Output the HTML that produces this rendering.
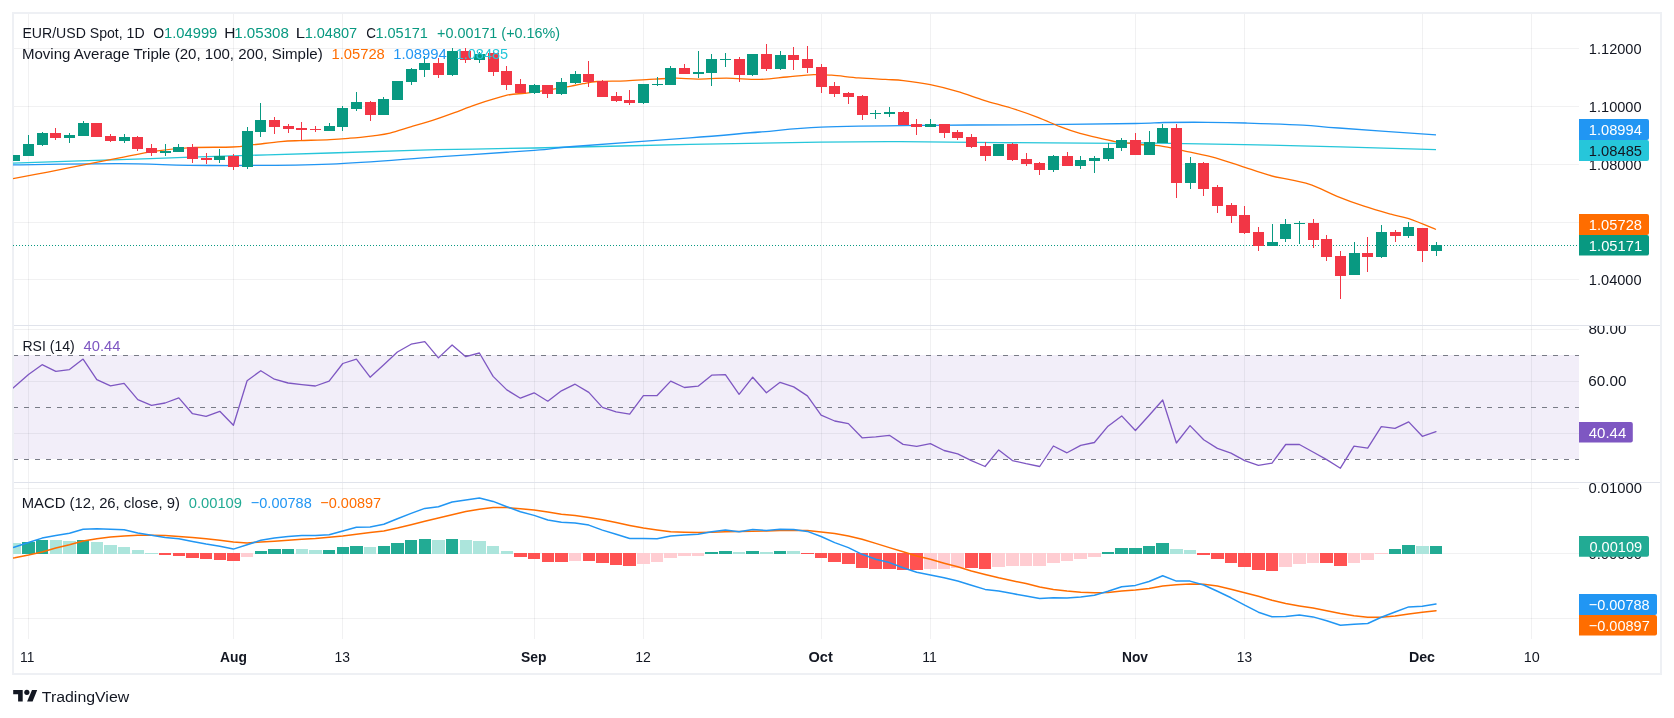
<!DOCTYPE html><html><head><meta charset="utf-8"><style>html,body{margin:0;padding:0;background:#fff;width:1674px;height:718px;overflow:hidden}svg{display:block;will-change:transform}</style></head><body><svg width="1674" height="718" viewBox="0 0 1674 718" font-family='"Liberation Sans", sans-serif'><defs><clipPath id="cm"><rect x="13" y="14" width="1566" height="311"/></clipPath><clipPath id="cr"><rect x="13" y="326" width="1566" height="156"/></clipPath><clipPath id="cd"><rect x="13" y="483" width="1566" height="155"/></clipPath><clipPath id="axr"><rect x="1579" y="326" width="81" height="156"/></clipPath><clipPath id="axd"><rect x="1579" y="483" width="81" height="155"/></clipPath></defs><rect width="1674" height="718" fill="#fff"/><rect x="13" y="355" width="1566" height="104" fill="#f2eef9"/><rect x="28" y="14" width="1" height="625" fill="rgba(42,46,57,0.065)"/><rect x="233" y="14" width="1" height="625" fill="rgba(42,46,57,0.065)"/><rect x="342" y="14" width="1" height="625" fill="rgba(42,46,57,0.065)"/><rect x="534" y="14" width="1" height="625" fill="rgba(42,46,57,0.065)"/><rect x="643" y="14" width="1" height="625" fill="rgba(42,46,57,0.065)"/><rect x="821" y="14" width="1" height="625" fill="rgba(42,46,57,0.065)"/><rect x="930" y="14" width="1" height="625" fill="rgba(42,46,57,0.065)"/><rect x="1135" y="14" width="1" height="625" fill="rgba(42,46,57,0.065)"/><rect x="1244" y="14" width="1" height="625" fill="rgba(42,46,57,0.065)"/><rect x="1422" y="14" width="1" height="625" fill="rgba(42,46,57,0.065)"/><rect x="1531" y="14" width="1" height="625" fill="rgba(42,46,57,0.065)"/><rect x="14" y="48" width="1565" height="1" fill="rgba(42,46,57,0.065)"/><rect x="14" y="106" width="1565" height="1" fill="rgba(42,46,57,0.065)"/><rect x="14" y="164" width="1565" height="1" fill="rgba(42,46,57,0.065)"/><rect x="14" y="222" width="1565" height="1" fill="rgba(42,46,57,0.065)"/><rect x="14" y="279" width="1565" height="1" fill="rgba(42,46,57,0.065)"/><rect x="14" y="329" width="1565" height="1" fill="rgba(42,46,57,0.065)"/><rect x="14" y="381" width="1565" height="1" fill="rgba(42,46,57,0.065)"/><rect x="14" y="433" width="1565" height="1" fill="rgba(42,46,57,0.065)"/><rect x="14" y="488" width="1565" height="1" fill="rgba(42,46,57,0.065)"/><rect x="14" y="553" width="1565" height="1" fill="rgba(42,46,57,0.065)"/><rect x="14" y="618" width="1565" height="1" fill="rgba(42,46,57,0.065)"/><line x1="13" y1="355.5" x2="1579" y2="355.5" stroke="#787b86" stroke-width="1" stroke-dasharray="5 6"/><line x1="13" y1="407.5" x2="1579" y2="407.5" stroke="#787b86" stroke-width="1" stroke-dasharray="5 6"/><line x1="13" y1="459.5" x2="1579" y2="459.5" stroke="#787b86" stroke-width="1" stroke-dasharray="5 6"/><rect x="12" y="325" width="1650" height="1" fill="#e0e3eb"/><rect x="12" y="482" width="1650" height="1" fill="#e0e3eb"/><rect x="13" y="13" width="1648" height="661" fill="none" stroke="#eef0f4" stroke-width="2"/><line x1="13" y1="245.5" x2="1579" y2="245.5" stroke="#089981" stroke-width="1" stroke-dasharray="1 2" clip-path="url(#cm)"/><path d="M13.0,163.2 C30.8,162.6 89.8,160.6 119.5,159.6 C149.2,158.6 156.1,158.3 191.2,157.2 C226.3,156.1 288.9,154.2 330.0,153.0 C371.1,151.8 403.4,150.5 437.5,149.7 C471.6,148.9 492.2,148.9 534.3,148.0 C576.4,147.1 642.4,145.4 690.0,144.4 C737.6,143.4 785.0,142.6 820.0,142.1 C855.0,141.6 870.0,141.5 900.0,141.6 C930.0,141.7 963.3,142.3 1000.0,142.6 C1036.7,142.9 1096.7,143.3 1120.0,143.4 C1143.3,143.5 1115.0,142.6 1140.0,142.9 C1165.0,143.2 1220.7,144.0 1270.0,145.1 C1319.3,146.2 1408.3,148.9 1436.0,149.7" fill="none" stroke="#26c6da" stroke-width="1.3" stroke-linejoin="round" clip-path="url(#cm)"/><path d="M13.0,164.9 C30.8,164.7 86.8,163.6 119.5,163.7 C152.2,163.8 173.9,165.4 209.0,165.5 C244.1,165.6 291.9,165.5 330.0,164.1 C368.1,162.7 403.4,159.1 437.5,156.8 C471.6,154.5 511.7,152.1 534.3,150.4 C556.9,148.7 547.0,148.6 573.0,146.5 C599.0,144.4 658.8,140.3 690.0,137.9 C721.2,135.5 738.2,133.8 760.0,132.0 C781.8,130.2 792.7,128.3 821.0,127.2 C849.3,126.1 893.5,125.7 930.0,125.3 C966.5,124.9 1005.7,125.0 1040.0,124.7 C1074.3,124.4 1114.9,123.9 1135.6,123.5 C1156.3,123.1 1152.3,122.7 1164.3,122.5 C1176.2,122.3 1193.8,122.2 1207.3,122.3 C1220.8,122.4 1229.6,122.5 1245.5,123.0 C1261.4,123.5 1287.3,124.3 1302.8,125.1 C1318.3,125.9 1316.5,126.4 1338.7,128.0 C1360.9,129.6 1419.8,133.8 1436.0,134.9" fill="none" stroke="#2196f3" stroke-width="1.3" stroke-linejoin="round" clip-path="url(#cm)"/><path d="M13.0,178.6 C18.8,177.5 36.0,174.4 47.8,172.1 C59.6,169.8 71.8,167.3 83.7,164.9 C95.7,162.5 107.5,160.1 119.5,157.8 C131.4,155.5 143.5,152.8 155.4,151.1 C167.3,149.4 178.4,148.3 191.2,147.6 C204.0,146.9 221.9,147.5 232.4,147.0 C242.9,146.5 245.8,145.6 253.9,144.7 C262.0,143.8 273.1,142.3 280.8,141.6 C288.5,140.9 291.8,140.9 300.0,140.6 C308.2,140.3 321.7,140.0 330.0,139.6 C338.3,139.2 342.8,138.8 350.0,138.2 C357.2,137.6 366.3,136.6 373.0,135.8 C379.7,134.9 383.6,134.6 390.0,133.1 C396.4,131.6 403.8,128.9 411.5,126.6 C419.2,124.3 429.0,121.4 436.2,119.1 C443.4,116.8 447.9,115.0 454.5,112.6 C461.1,110.2 467.4,107.5 476.0,104.6 C484.6,101.7 498.0,97.3 506.1,95.4 C514.2,93.5 518.7,94.0 524.4,93.3 C530.1,92.6 532.9,92.3 540.5,91.1 C548.1,89.9 562.9,87.5 570.0,86.3 C577.1,85.1 578.5,84.5 583.0,83.7 C587.5,82.9 590.1,82.0 597.3,81.5 C604.5,81.0 616.4,81.2 626.0,80.8 C635.6,80.4 646.3,79.5 654.7,79.1 C663.1,78.7 669.0,78.2 676.2,78.2 C683.4,78.2 689.3,79.1 697.7,79.1 C706.1,79.1 716.0,78.2 726.4,78.2 C736.8,78.2 749.9,79.6 760.0,79.4 C770.1,79.2 777.9,77.8 786.9,77.0 C795.9,76.2 806.3,75.0 813.8,74.7 C821.3,74.4 824.2,74.7 831.7,75.2 C839.2,75.7 849.7,77.2 858.6,77.9 C867.5,78.6 877.9,79.0 885.4,79.4 C892.9,79.9 895.9,79.7 903.4,80.6 C910.9,81.5 921.3,82.9 930.3,84.7 C939.2,86.5 948.1,88.8 957.1,91.4 C966.1,94.0 975.0,97.5 984.0,100.3 C993.0,103.1 1001.9,105.2 1010.9,108.0 C1019.9,110.8 1029.6,114.2 1037.8,117.3 C1046.0,120.4 1053.0,124.0 1060.0,126.7 C1067.0,129.4 1072.9,131.4 1080.0,133.4 C1087.1,135.4 1096.6,137.4 1102.6,138.8 C1108.6,140.2 1111.4,141.1 1116.0,141.8 C1120.6,142.6 1126.0,142.9 1130.0,143.3 C1134.0,143.8 1134.8,144.0 1140.0,144.5 C1145.2,145.0 1154.3,145.1 1161.5,146.1 C1168.7,147.1 1174.6,148.8 1183.0,150.6 C1191.4,152.4 1202.1,154.4 1211.7,156.9 C1221.3,159.4 1230.9,162.8 1240.4,165.8 C1250.0,168.9 1260.3,172.8 1269.0,175.2 C1277.7,177.6 1285.1,178.5 1292.3,180.2 C1299.5,181.9 1304.5,182.5 1312.0,185.2 C1319.5,187.9 1328.4,192.8 1337.1,196.3 C1345.8,199.8 1355.0,203.2 1364.0,206.2 C1373.0,209.2 1383.4,212.1 1390.9,214.2 C1398.4,216.3 1401.3,216.1 1408.8,218.7 C1416.3,221.2 1431.5,227.7 1436.0,229.5" fill="none" stroke="#ff6d00" stroke-width="1.3" stroke-linejoin="round" clip-path="url(#cm)"/><g clip-path="url(#cm)" shape-rendering="crispEdges"><rect x="14" y="155" width="1" height="6" fill="#089981"/><rect x="9" y="155" width="11" height="6" fill="#089981"/><rect x="28" y="135" width="1" height="21" fill="#089981"/><rect x="23" y="144" width="11" height="12" fill="#089981"/><rect x="42" y="132" width="1" height="14" fill="#089981"/><rect x="37" y="133" width="11" height="12" fill="#089981"/><rect x="55" y="128" width="1" height="12" fill="#f23645"/><rect x="50" y="133" width="11" height="5" fill="#f23645"/><rect x="69" y="133" width="1" height="10" fill="#089981"/><rect x="64" y="135" width="11" height="3" fill="#089981"/><rect x="83" y="121" width="1" height="15" fill="#089981"/><rect x="78" y="123" width="11" height="13" fill="#089981"/><rect x="96" y="123" width="1" height="14" fill="#f23645"/><rect x="91" y="123" width="11" height="14" fill="#f23645"/><rect x="110" y="134" width="1" height="8" fill="#f23645"/><rect x="105" y="136" width="11" height="5" fill="#f23645"/><rect x="124" y="134" width="1" height="9" fill="#089981"/><rect x="119" y="137" width="11" height="4" fill="#089981"/><rect x="137" y="136" width="1" height="15" fill="#f23645"/><rect x="132" y="137" width="11" height="12" fill="#f23645"/><rect x="151" y="144" width="1" height="12" fill="#f23645"/><rect x="146" y="148" width="11" height="5" fill="#f23645"/><rect x="165" y="144" width="1" height="12" fill="#089981"/><rect x="160" y="151" width="11" height="2" fill="#089981"/><rect x="178" y="144" width="1" height="8" fill="#089981"/><rect x="173" y="147" width="11" height="5" fill="#089981"/><rect x="192" y="144" width="1" height="19" fill="#f23645"/><rect x="187" y="147" width="11" height="12" fill="#f23645"/><rect x="206" y="153" width="1" height="11" fill="#f23645"/><rect x="201" y="158" width="11" height="2" fill="#f23645"/><rect x="219" y="149" width="1" height="14" fill="#089981"/><rect x="214" y="156" width="11" height="4" fill="#089981"/><rect x="233" y="154" width="1" height="16" fill="#f23645"/><rect x="228" y="156" width="11" height="11" fill="#f23645"/><rect x="247" y="127" width="1" height="42" fill="#089981"/><rect x="242" y="131" width="11" height="36" fill="#089981"/><rect x="260" y="103" width="1" height="34" fill="#089981"/><rect x="255" y="120" width="11" height="12" fill="#089981"/><rect x="274" y="117" width="1" height="17" fill="#f23645"/><rect x="269" y="120" width="11" height="7" fill="#f23645"/><rect x="288" y="124" width="1" height="9" fill="#f23645"/><rect x="283" y="126" width="11" height="3" fill="#f23645"/><rect x="301" y="122" width="1" height="18" fill="#f23645"/><rect x="296" y="128" width="11" height="2" fill="#f23645"/><rect x="315" y="126" width="1" height="6" fill="#f23645"/><rect x="310" y="129" width="11" height="1" fill="#f23645"/><rect x="329" y="123" width="1" height="8" fill="#089981"/><rect x="324" y="126" width="11" height="5" fill="#089981"/><rect x="342" y="106" width="1" height="25" fill="#089981"/><rect x="337" y="108" width="11" height="19" fill="#089981"/><rect x="356" y="92" width="1" height="19" fill="#089981"/><rect x="351" y="102" width="11" height="7" fill="#089981"/><rect x="370" y="101" width="1" height="20" fill="#f23645"/><rect x="365" y="102" width="11" height="13" fill="#f23645"/><rect x="383" y="97" width="1" height="18" fill="#089981"/><rect x="378" y="99" width="11" height="16" fill="#089981"/><rect x="397" y="81" width="1" height="19" fill="#089981"/><rect x="392" y="81" width="11" height="19" fill="#089981"/><rect x="411" y="68" width="1" height="17" fill="#089981"/><rect x="406" y="69" width="11" height="13" fill="#089981"/><rect x="424" y="56" width="1" height="21" fill="#089981"/><rect x="419" y="63" width="11" height="7" fill="#089981"/><rect x="438" y="58" width="1" height="20" fill="#f23645"/><rect x="433" y="63" width="11" height="12" fill="#f23645"/><rect x="452" y="48" width="1" height="28" fill="#089981"/><rect x="447" y="51" width="11" height="24" fill="#089981"/><rect x="465" y="48" width="1" height="15" fill="#f23645"/><rect x="460" y="51" width="11" height="9" fill="#f23645"/><rect x="479" y="52" width="1" height="11" fill="#089981"/><rect x="474" y="54" width="11" height="6" fill="#089981"/><rect x="493" y="52" width="1" height="24" fill="#f23645"/><rect x="488" y="53" width="11" height="19" fill="#f23645"/><rect x="506" y="66" width="1" height="24" fill="#f23645"/><rect x="501" y="71" width="11" height="14" fill="#f23645"/><rect x="520" y="79" width="1" height="14" fill="#f23645"/><rect x="515" y="84" width="11" height="9" fill="#f23645"/><rect x="534" y="84" width="1" height="10" fill="#089981"/><rect x="529" y="85" width="11" height="8" fill="#089981"/><rect x="547" y="85" width="1" height="13" fill="#f23645"/><rect x="542" y="85" width="11" height="9" fill="#f23645"/><rect x="561" y="78" width="1" height="17" fill="#089981"/><rect x="556" y="82" width="11" height="12" fill="#089981"/><rect x="575" y="71" width="1" height="13" fill="#089981"/><rect x="570" y="74" width="11" height="9" fill="#089981"/><rect x="588" y="61" width="1" height="26" fill="#f23645"/><rect x="583" y="74" width="11" height="8" fill="#f23645"/><rect x="602" y="80" width="1" height="17" fill="#f23645"/><rect x="597" y="81" width="11" height="16" fill="#f23645"/><rect x="616" y="92" width="1" height="10" fill="#f23645"/><rect x="611" y="96" width="11" height="5" fill="#f23645"/><rect x="629" y="90" width="1" height="15" fill="#f23645"/><rect x="624" y="100" width="11" height="3" fill="#f23645"/><rect x="643" y="84" width="1" height="20" fill="#089981"/><rect x="638" y="84" width="11" height="19" fill="#089981"/><rect x="657" y="77" width="1" height="9" fill="#089981"/><rect x="652" y="84" width="11" height="1" fill="#089981"/><rect x="670" y="66" width="1" height="19" fill="#089981"/><rect x="665" y="68" width="11" height="17" fill="#089981"/><rect x="684" y="64" width="1" height="10" fill="#f23645"/><rect x="679" y="68" width="11" height="6" fill="#f23645"/><rect x="698" y="51" width="1" height="27" fill="#089981"/><rect x="693" y="72" width="11" height="2" fill="#089981"/><rect x="711" y="54" width="1" height="32" fill="#089981"/><rect x="706" y="59" width="11" height="14" fill="#089981"/><rect x="725" y="53" width="1" height="14" fill="#089981"/><rect x="720" y="59" width="11" height="1" fill="#089981"/><rect x="739" y="57" width="1" height="25" fill="#f23645"/><rect x="734" y="59" width="11" height="16" fill="#f23645"/><rect x="752" y="54" width="1" height="22" fill="#089981"/><rect x="747" y="54" width="11" height="21" fill="#089981"/><rect x="766" y="44" width="1" height="27" fill="#f23645"/><rect x="761" y="54" width="11" height="15" fill="#f23645"/><rect x="780" y="51" width="1" height="19" fill="#089981"/><rect x="775" y="55" width="11" height="14" fill="#089981"/><rect x="793" y="47" width="1" height="23" fill="#f23645"/><rect x="788" y="55" width="11" height="5" fill="#f23645"/><rect x="807" y="46" width="1" height="27" fill="#f23645"/><rect x="802" y="59" width="11" height="9" fill="#f23645"/><rect x="821" y="64" width="1" height="29" fill="#f23645"/><rect x="816" y="67" width="11" height="20" fill="#f23645"/><rect x="834" y="82" width="1" height="15" fill="#f23645"/><rect x="829" y="86" width="11" height="8" fill="#f23645"/><rect x="848" y="92" width="1" height="12" fill="#f23645"/><rect x="843" y="93" width="11" height="4" fill="#f23645"/><rect x="862" y="95" width="1" height="25" fill="#f23645"/><rect x="857" y="96" width="11" height="19" fill="#f23645"/><rect x="875" y="110" width="1" height="9" fill="#089981"/><rect x="870" y="113" width="11" height="1" fill="#089981"/><rect x="889" y="107" width="1" height="10" fill="#089981"/><rect x="884" y="112" width="11" height="2" fill="#089981"/><rect x="903" y="111" width="1" height="14" fill="#f23645"/><rect x="898" y="112" width="11" height="13" fill="#f23645"/><rect x="916" y="119" width="1" height="16" fill="#f23645"/><rect x="911" y="124" width="11" height="3" fill="#f23645"/><rect x="930" y="119" width="1" height="8" fill="#089981"/><rect x="925" y="124" width="11" height="3" fill="#089981"/><rect x="944" y="124" width="1" height="14" fill="#f23645"/><rect x="939" y="124" width="11" height="9" fill="#f23645"/><rect x="957" y="130" width="1" height="10" fill="#f23645"/><rect x="952" y="132" width="11" height="6" fill="#f23645"/><rect x="971" y="134" width="1" height="14" fill="#f23645"/><rect x="966" y="137" width="11" height="10" fill="#f23645"/><rect x="985" y="142" width="1" height="19" fill="#f23645"/><rect x="980" y="146" width="11" height="10" fill="#f23645"/><rect x="998" y="144" width="1" height="12" fill="#089981"/><rect x="993" y="144" width="11" height="12" fill="#089981"/><rect x="1012" y="143" width="1" height="18" fill="#f23645"/><rect x="1007" y="144" width="11" height="16" fill="#f23645"/><rect x="1026" y="153" width="1" height="13" fill="#f23645"/><rect x="1021" y="159" width="11" height="5" fill="#f23645"/><rect x="1039" y="162" width="1" height="13" fill="#f23645"/><rect x="1034" y="163" width="11" height="7" fill="#f23645"/><rect x="1053" y="155" width="1" height="17" fill="#089981"/><rect x="1048" y="156" width="11" height="14" fill="#089981"/><rect x="1067" y="152" width="1" height="14" fill="#f23645"/><rect x="1062" y="156" width="11" height="10" fill="#f23645"/><rect x="1080" y="156" width="1" height="13" fill="#089981"/><rect x="1075" y="160" width="11" height="6" fill="#089981"/><rect x="1094" y="156" width="1" height="17" fill="#089981"/><rect x="1089" y="158" width="11" height="3" fill="#089981"/><rect x="1108" y="143" width="1" height="18" fill="#089981"/><rect x="1103" y="148" width="11" height="11" fill="#089981"/><rect x="1121" y="138" width="1" height="13" fill="#089981"/><rect x="1116" y="140" width="11" height="8" fill="#089981"/><rect x="1135" y="133" width="1" height="22" fill="#f23645"/><rect x="1130" y="140" width="11" height="15" fill="#f23645"/><rect x="1149" y="131" width="1" height="24" fill="#089981"/><rect x="1144" y="142" width="11" height="13" fill="#089981"/><rect x="1162" y="124" width="1" height="19" fill="#089981"/><rect x="1157" y="128" width="11" height="15" fill="#089981"/><rect x="1176" y="124" width="1" height="74" fill="#f23645"/><rect x="1171" y="128" width="11" height="55" fill="#f23645"/><rect x="1190" y="157" width="1" height="32" fill="#089981"/><rect x="1185" y="163" width="11" height="20" fill="#089981"/><rect x="1203" y="162" width="1" height="34" fill="#f23645"/><rect x="1198" y="163" width="11" height="26" fill="#f23645"/><rect x="1217" y="185" width="1" height="28" fill="#f23645"/><rect x="1212" y="187" width="11" height="19" fill="#f23645"/><rect x="1231" y="203" width="1" height="20" fill="#f23645"/><rect x="1226" y="205" width="11" height="11" fill="#f23645"/><rect x="1244" y="206" width="1" height="28" fill="#f23645"/><rect x="1239" y="215" width="11" height="18" fill="#f23645"/><rect x="1258" y="227" width="1" height="24" fill="#f23645"/><rect x="1253" y="232" width="11" height="14" fill="#f23645"/><rect x="1272" y="224" width="1" height="22" fill="#089981"/><rect x="1267" y="242" width="11" height="4" fill="#089981"/><rect x="1285" y="219" width="1" height="23" fill="#089981"/><rect x="1280" y="224" width="11" height="15" fill="#089981"/><rect x="1299" y="221" width="1" height="23" fill="#089981"/><rect x="1294" y="223" width="11" height="1" fill="#089981"/><rect x="1313" y="219" width="1" height="29" fill="#f23645"/><rect x="1308" y="223" width="11" height="17" fill="#f23645"/><rect x="1326" y="235" width="1" height="26" fill="#f23645"/><rect x="1321" y="239" width="11" height="18" fill="#f23645"/><rect x="1340" y="251" width="1" height="48" fill="#f23645"/><rect x="1335" y="256" width="11" height="20" fill="#f23645"/><rect x="1354" y="242" width="1" height="33" fill="#089981"/><rect x="1349" y="253" width="11" height="22" fill="#089981"/><rect x="1367" y="237" width="1" height="35" fill="#f23645"/><rect x="1362" y="253" width="11" height="4" fill="#f23645"/><rect x="1381" y="225" width="1" height="33" fill="#089981"/><rect x="1376" y="232" width="11" height="25" fill="#089981"/><rect x="1395" y="230" width="1" height="12" fill="#f23645"/><rect x="1390" y="232" width="11" height="4" fill="#f23645"/><rect x="1408" y="222" width="1" height="16" fill="#089981"/><rect x="1403" y="227" width="11" height="9" fill="#089981"/><rect x="1422" y="228" width="1" height="34" fill="#f23645"/><rect x="1417" y="228" width="11" height="23" fill="#f23645"/><rect x="1436" y="242" width="1" height="14" fill="#089981"/><rect x="1431" y="245" width="11" height="6" fill="#089981"/></g><path d="M13.0,388.0 L14.8,386.4 L28.5,374.5 L42.1,364.7 L55.8,371.4 L69.5,369.6 L83.1,359.1 L96.8,379.6 L110.5,385.9 L124.1,383.4 L137.8,399.7 L151.5,405.3 L165.1,403.0 L178.8,397.9 L192.5,413.7 L206.1,416.4 L219.8,411.3 L233.4,425.3 L247.1,380.7 L260.8,370.7 L274.4,379.2 L288.1,383.0 L301.8,384.6 L315.4,386.0 L329.1,381.1 L342.8,363.5 L356.4,359.2 L370.1,377.2 L383.8,364.7 L397.4,352.0 L411.1,344.2 L424.8,341.7 L438.4,357.9 L452.1,345.0 L465.8,356.7 L479.4,353.0 L493.1,376.4 L506.8,389.9 L520.4,398.2 L534.1,392.8 L547.8,401.2 L561.4,390.8 L575.1,384.2 L588.8,392.4 L602.4,407.4 L616.1,411.9 L629.7,414.2 L643.4,395.7 L657.1,395.5 L670.7,381.1 L684.4,387.5 L698.1,386.2 L711.7,375.2 L725.4,374.6 L739.1,394.3 L752.7,377.2 L766.4,392.8 L780.1,382.3 L793.7,386.9 L807.4,395.9 L821.1,415.2 L834.7,421.0 L848.4,423.6 L862.1,437.8 L875.7,436.8 L889.4,435.3 L903.1,444.4 L916.7,446.4 L930.4,443.7 L944.1,450.5 L957.7,453.8 L971.4,460.6 L985.1,466.5 L998.7,449.9 L1012.4,460.6 L1026.0,463.7 L1039.7,466.5 L1053.4,446.0 L1067.0,452.8 L1080.7,445.4 L1094.4,442.5 L1108.0,426.2 L1121.7,415.9 L1135.4,430.5 L1149.0,415.5 L1162.7,400.0 L1176.4,443.0 L1190.0,425.6 L1203.7,439.8 L1217.4,448.4 L1231.0,453.1 L1244.7,460.6 L1258.4,465.4 L1272.0,463.2 L1285.7,444.5 L1299.4,444.5 L1313.0,452.0 L1326.7,459.6 L1340.4,468.2 L1354.0,446.2 L1367.7,448.2 L1381.3,426.7 L1395.0,428.4 L1408.7,421.9 L1422.3,436.3 L1436.0,431.6" fill="none" stroke="#7e57c2" stroke-width="1.3" stroke-linejoin="round" stroke-linecap="round" clip-path="url(#cr)"/><g clip-path="url(#cd)" shape-rendering="crispEdges"><rect x="9" y="543" width="12" height="11" fill="#ace5dc"/><rect x="22" y="542" width="13" height="12" fill="#22ab94"/><rect x="36" y="540" width="12" height="14" fill="#22ab94"/><rect x="50" y="540" width="12" height="14" fill="#ace5dc"/><rect x="63" y="541" width="13" height="13" fill="#ace5dc"/><rect x="77" y="540" width="12" height="14" fill="#22ab94"/><rect x="91" y="542" width="12" height="12" fill="#ace5dc"/><rect x="104" y="545" width="13" height="9" fill="#ace5dc"/><rect x="118" y="547" width="12" height="7" fill="#ace5dc"/><rect x="132" y="550" width="12" height="4" fill="#ace5dc"/><rect x="145" y="553" width="13" height="1" fill="#ace5dc"/><rect x="159" y="553" width="12" height="2" fill="#ff5252"/><rect x="173" y="553" width="12" height="3" fill="#ff5252"/><rect x="186" y="553" width="13" height="5" fill="#ff5252"/><rect x="200" y="553" width="12" height="6" fill="#ff5252"/><rect x="214" y="553" width="12" height="7" fill="#ff5252"/><rect x="227" y="553" width="13" height="8" fill="#ff5252"/><rect x="241" y="553" width="12" height="4" fill="#ffcdd2"/><rect x="255" y="551" width="12" height="3" fill="#22ab94"/><rect x="268" y="549" width="13" height="5" fill="#22ab94"/><rect x="282" y="549" width="12" height="5" fill="#22ab94"/><rect x="296" y="549" width="12" height="5" fill="#ace5dc"/><rect x="309" y="550" width="13" height="4" fill="#ace5dc"/><rect x="323" y="550" width="12" height="4" fill="#22ab94"/><rect x="337" y="547" width="12" height="7" fill="#22ab94"/><rect x="350" y="546" width="13" height="8" fill="#22ab94"/><rect x="364" y="547" width="12" height="7" fill="#ace5dc"/><rect x="378" y="546" width="12" height="8" fill="#22ab94"/><rect x="391" y="543" width="13" height="11" fill="#22ab94"/><rect x="405" y="540" width="12" height="14" fill="#22ab94"/><rect x="419" y="539" width="12" height="15" fill="#22ab94"/><rect x="432" y="540" width="13" height="14" fill="#ace5dc"/><rect x="446" y="539" width="12" height="15" fill="#22ab94"/><rect x="460" y="540" width="12" height="14" fill="#ace5dc"/><rect x="473" y="541" width="13" height="13" fill="#ace5dc"/><rect x="487" y="546" width="12" height="8" fill="#ace5dc"/><rect x="501" y="551" width="12" height="3" fill="#ace5dc"/><rect x="514" y="553" width="13" height="4" fill="#ff5252"/><rect x="528" y="553" width="12" height="6" fill="#ff5252"/><rect x="542" y="553" width="12" height="9" fill="#ff5252"/><rect x="555" y="553" width="13" height="9" fill="#ff5252"/><rect x="569" y="553" width="12" height="8" fill="#ffcdd2"/><rect x="583" y="553" width="12" height="8" fill="#ff5252"/><rect x="596" y="553" width="13" height="10" fill="#ff5252"/><rect x="610" y="553" width="12" height="12" fill="#ff5252"/><rect x="623" y="553" width="13" height="13" fill="#ff5252"/><rect x="637" y="553" width="13" height="11" fill="#ffcdd2"/><rect x="651" y="553" width="12" height="9" fill="#ffcdd2"/><rect x="664" y="553" width="13" height="5" fill="#ffcdd2"/><rect x="678" y="553" width="13" height="3" fill="#ffcdd2"/><rect x="692" y="553" width="12" height="3" fill="#ffcdd2"/><rect x="705" y="552" width="13" height="2" fill="#22ab94"/><rect x="719" y="551" width="13" height="3" fill="#22ab94"/><rect x="733" y="552" width="12" height="2" fill="#ace5dc"/><rect x="746" y="551" width="13" height="3" fill="#22ab94"/><rect x="760" y="552" width="13" height="2" fill="#ace5dc"/><rect x="774" y="551" width="12" height="3" fill="#22ab94"/><rect x="787" y="551" width="13" height="3" fill="#ace5dc"/><rect x="801" y="553" width="13" height="1" fill="#ff5252"/><rect x="815" y="553" width="12" height="5" fill="#ff5252"/><rect x="828" y="553" width="13" height="9" fill="#ff5252"/><rect x="842" y="553" width="13" height="11" fill="#ff5252"/><rect x="856" y="553" width="12" height="15" fill="#ff5252"/><rect x="869" y="553" width="13" height="16" fill="#ff5252"/><rect x="883" y="553" width="13" height="16" fill="#ff5252"/><rect x="897" y="553" width="12" height="17" fill="#ff5252"/><rect x="910" y="553" width="13" height="17" fill="#ff5252"/><rect x="924" y="553" width="13" height="16" fill="#ffcdd2"/><rect x="938" y="553" width="12" height="16" fill="#ffcdd2"/><rect x="951" y="553" width="13" height="15" fill="#ffcdd2"/><rect x="965" y="553" width="13" height="15" fill="#ff5252"/><rect x="979" y="553" width="12" height="16" fill="#ff5252"/><rect x="992" y="553" width="13" height="14" fill="#ffcdd2"/><rect x="1006" y="553" width="13" height="13" fill="#ffcdd2"/><rect x="1020" y="553" width="12" height="13" fill="#ffcdd2"/><rect x="1033" y="553" width="13" height="13" fill="#ffcdd2"/><rect x="1047" y="553" width="13" height="10" fill="#ffcdd2"/><rect x="1061" y="553" width="12" height="8" fill="#ffcdd2"/><rect x="1074" y="553" width="13" height="6" fill="#ffcdd2"/><rect x="1088" y="553" width="13" height="4" fill="#ffcdd2"/><rect x="1102" y="552" width="12" height="2" fill="#22ab94"/><rect x="1115" y="548" width="13" height="6" fill="#22ab94"/><rect x="1129" y="548" width="13" height="6" fill="#22ab94"/><rect x="1143" y="546" width="12" height="8" fill="#22ab94"/><rect x="1156" y="543" width="13" height="11" fill="#22ab94"/><rect x="1170" y="549" width="13" height="5" fill="#ace5dc"/><rect x="1184" y="550" width="12" height="4" fill="#ace5dc"/><rect x="1197" y="553" width="13" height="2" fill="#ff5252"/><rect x="1211" y="553" width="13" height="6" fill="#ff5252"/><rect x="1225" y="553" width="12" height="10" fill="#ff5252"/><rect x="1238" y="553" width="13" height="14" fill="#ff5252"/><rect x="1252" y="553" width="13" height="17" fill="#ff5252"/><rect x="1266" y="553" width="12" height="18" fill="#ff5252"/><rect x="1279" y="553" width="13" height="14" fill="#ffcdd2"/><rect x="1293" y="553" width="13" height="11" fill="#ffcdd2"/><rect x="1307" y="553" width="12" height="10" fill="#ffcdd2"/><rect x="1320" y="553" width="13" height="10" fill="#ff5252"/><rect x="1334" y="553" width="13" height="13" fill="#ff5252"/><rect x="1348" y="553" width="12" height="10" fill="#ffcdd2"/><rect x="1361" y="553" width="13" height="7" fill="#ffcdd2"/><rect x="1375" y="553" width="13" height="1" fill="#ffcdd2"/><rect x="1389" y="549" width="12" height="5" fill="#22ab94"/><rect x="1402" y="545" width="13" height="9" fill="#22ab94"/><rect x="1416" y="546" width="13" height="8" fill="#ace5dc"/><rect x="1430" y="546" width="12" height="8" fill="#22ab94"/></g><path d="M13.0,558.0 L14.8,557.7 L28.5,555.1 L42.1,552.0 L55.8,548.0 L69.5,544.7 L83.1,541.0 L96.8,538.8 L110.5,537.0 L124.1,535.9 L137.8,535.3 L151.5,535.3 L165.1,535.5 L178.8,536.4 L192.5,537.5 L206.1,538.8 L219.8,540.3 L233.4,542.1 L247.1,543.0 L260.8,541.9 L274.4,541.2 L288.1,540.2 L301.8,539.3 L315.4,538.5 L329.1,537.3 L342.8,536.0 L356.4,534.3 L370.1,532.6 L383.8,531.0 L397.4,528.1 L411.1,524.8 L424.8,521.3 L438.4,518.1 L452.1,514.8 L465.8,511.4 L479.4,509.2 L493.1,507.6 L506.8,507.6 L520.4,508.7 L534.1,510.1 L547.8,512.0 L561.4,514.2 L575.1,515.6 L588.8,517.6 L602.4,519.7 L616.1,522.6 L629.7,525.4 L643.4,528.1 L657.1,530.1 L670.7,531.8 L684.4,532.3 L698.1,532.6 L711.7,532.3 L725.4,531.8 L739.1,531.4 L752.7,531.3 L766.4,530.9 L780.1,530.6 L793.7,530.4 L807.4,530.6 L821.1,532.0 L834.7,533.4 L848.4,535.9 L862.1,539.2 L875.7,543.4 L889.4,547.6 L903.1,551.8 L916.7,556.0 L930.4,559.3 L944.1,563.2 L957.7,566.8 L971.4,571.0 L985.1,574.4 L998.7,577.7 L1012.4,580.7 L1026.0,583.6 L1039.7,586.9 L1053.4,589.4 L1067.0,591.1 L1080.7,592.3 L1094.4,592.8 L1108.0,592.4 L1121.7,591.0 L1135.4,589.9 L1149.0,588.5 L1162.7,586.0 L1176.4,584.8 L1190.0,584.1 L1203.7,584.3 L1217.4,586.1 L1231.0,589.2 L1244.7,592.7 L1258.4,596.2 L1272.0,600.2 L1285.7,603.6 L1299.4,605.9 L1313.0,608.1 L1326.7,610.8 L1340.4,613.5 L1354.0,615.8 L1367.7,617.3 L1381.3,617.3 L1395.0,616.1 L1408.7,614.0 L1422.3,612.3 L1436.0,610.8" fill="none" stroke="#ff6d00" stroke-width="1.5" stroke-linejoin="round" stroke-linecap="round" clip-path="url(#cd)"/><path d="M13.0,547.6 L14.8,547.0 L28.5,542.5 L42.1,538.1 L55.8,535.5 L69.5,533.3 L83.1,529.3 L96.8,528.7 L110.5,529.3 L124.1,529.8 L137.8,533.1 L151.5,535.3 L165.1,537.5 L178.8,538.8 L192.5,541.4 L206.1,544.1 L219.8,546.3 L233.4,549.1 L247.1,544.7 L260.8,540.3 L274.4,538.0 L288.1,536.5 L301.8,535.5 L315.4,535.5 L329.1,534.8 L342.8,531.0 L356.4,527.3 L370.1,527.1 L383.8,524.3 L397.4,518.8 L411.1,513.4 L424.8,508.4 L438.4,506.7 L452.1,502.0 L465.8,500.0 L479.4,498.0 L493.1,501.4 L506.8,506.7 L520.4,511.7 L534.1,515.4 L547.8,520.0 L561.4,522.2 L575.1,522.9 L588.8,525.1 L602.4,530.1 L616.1,534.3 L629.7,538.5 L643.4,538.5 L657.1,538.8 L670.7,536.0 L684.4,535.1 L698.1,534.3 L711.7,531.8 L725.4,530.1 L739.1,531.8 L752.7,529.6 L766.4,530.4 L780.1,529.3 L793.7,529.6 L807.4,531.4 L821.1,536.5 L834.7,542.6 L848.4,547.6 L862.1,554.3 L875.7,559.3 L889.4,562.6 L903.1,567.7 L916.7,572.2 L930.4,574.9 L944.1,577.7 L957.7,581.0 L971.4,585.2 L985.1,589.4 L998.7,591.1 L1012.4,593.6 L1026.0,596.1 L1039.7,598.6 L1053.4,597.8 L1067.0,598.1 L1080.7,596.9 L1094.4,595.3 L1108.0,591.3 L1121.7,586.7 L1135.4,585.4 L1149.0,581.5 L1162.7,575.7 L1176.4,581.1 L1190.0,581.1 L1203.7,585.0 L1217.4,591.3 L1231.0,597.8 L1244.7,605.2 L1258.4,612.2 L1272.0,616.8 L1285.7,616.6 L1299.4,615.0 L1313.0,616.9 L1326.7,620.7 L1340.4,625.3 L1354.0,624.2 L1367.7,623.5 L1381.3,617.3 L1395.0,612.0 L1408.7,606.9 L1422.3,606.2 L1436.0,604.0" fill="none" stroke="#2196f3" stroke-width="1.5" stroke-linejoin="round" stroke-linecap="round" clip-path="url(#cd)"/><text x="22.42" y="38.3" fill="#131722" font-size="15.5" font-weight="normal" textLength="122.20" lengthAdjust="spacingAndGlyphs">EUR/USD Spot, 1D</text><text x="153.27" y="38.3" fill="#131722" font-size="15.5" font-weight="normal" textLength="10.92" lengthAdjust="spacingAndGlyphs">O</text><text x="164.06" y="38.3" fill="#089981" font-size="15.5" font-weight="normal" textLength="53.23" lengthAdjust="spacingAndGlyphs">1.04999</text><text x="224.30" y="38.3" fill="#131722" font-size="15.5" font-weight="normal" textLength="11.19" lengthAdjust="spacingAndGlyphs">H</text><text x="234.23" y="38.3" fill="#089981" font-size="15.5" font-weight="normal" textLength="54.68" lengthAdjust="spacingAndGlyphs">1.05308</text><text x="295.80" y="38.3" fill="#131722" font-size="15.5" font-weight="normal" textLength="9.25" lengthAdjust="spacingAndGlyphs">L</text><text x="304.68" y="38.3" fill="#089981" font-size="15.5" font-weight="normal" textLength="52.51" lengthAdjust="spacingAndGlyphs">1.04807</text><text x="366.31" y="38.3" fill="#131722" font-size="15.5" font-weight="normal" textLength="9.71" lengthAdjust="spacingAndGlyphs">C</text><text x="375.38" y="38.3" fill="#089981" font-size="15.5" font-weight="normal" textLength="52.51" lengthAdjust="spacingAndGlyphs">1.05171</text><text x="437.05" y="38.3" fill="#089981" font-size="15.5" font-weight="normal" textLength="122.98" lengthAdjust="spacingAndGlyphs">+0.00171 (+0.16%)</text><text x="21.94" y="59" fill="#131722" font-size="15.5" font-weight="normal" textLength="300.72" lengthAdjust="spacingAndGlyphs">Moving Average Triple (20, 100, 200, Simple)</text><text x="331.46" y="59" fill="#ff6d00" font-size="15.5" font-weight="normal" textLength="53.34" lengthAdjust="spacingAndGlyphs">1.05728</text><text x="393.15" y="59" fill="#2196f3" font-size="15.5" font-weight="normal" textLength="53.56" lengthAdjust="spacingAndGlyphs">1.08994</text><text x="455.68" y="59" fill="#26c6da" font-size="15.5" font-weight="normal" textLength="52.41" lengthAdjust="spacingAndGlyphs">1.08485</text><text x="22.42" y="351" fill="#131722" font-size="15.5" font-weight="normal" textLength="52.29" lengthAdjust="spacingAndGlyphs">RSI (14)</text><text x="83.51" y="351" fill="#7e57c2" font-size="15.5" font-weight="normal" textLength="36.85" lengthAdjust="spacingAndGlyphs">40.44</text><text x="21.76" y="508" fill="#131722" font-size="15.5" font-weight="normal" textLength="158.09" lengthAdjust="spacingAndGlyphs">MACD (12, 26, close, 9)</text><text x="188.73" y="508" fill="#22ab94" font-size="15.5" font-weight="normal" textLength="53.26" lengthAdjust="spacingAndGlyphs">0.00109</text><text x="250.84" y="508" fill="#2196f3" font-size="15.5" font-weight="normal" textLength="60.90" lengthAdjust="spacingAndGlyphs">−0.00788</text><text x="320.35" y="508" fill="#ff6d00" font-size="15.5" font-weight="normal" textLength="60.79" lengthAdjust="spacingAndGlyphs">−0.00897</text><text x="1588.87" y="54" fill="#131722" font-size="15.5" font-weight="normal" textLength="52.72" lengthAdjust="spacingAndGlyphs">1.12000</text><text x="1588.87" y="112" fill="#131722" font-size="15.5" font-weight="normal" textLength="52.72" lengthAdjust="spacingAndGlyphs">1.10000</text><text x="1588.87" y="170" fill="#131722" font-size="15.5" font-weight="normal" textLength="52.72" lengthAdjust="spacingAndGlyphs">1.08000</text><text x="1588.87" y="227.5" fill="#131722" font-size="15.5" font-weight="normal" textLength="52.72" lengthAdjust="spacingAndGlyphs">1.06000</text><text x="1588.87" y="284.5" fill="#131722" font-size="15.5" font-weight="normal" textLength="52.72" lengthAdjust="spacingAndGlyphs">1.04000</text><g clip-path="url(#axr)"><text x="1588.41" y="334" fill="#131722" font-size="15.5" font-weight="normal" textLength="38.06" lengthAdjust="spacingAndGlyphs">80.00</text><text x="1588.31" y="386.2" fill="#131722" font-size="15.5" font-weight="normal" textLength="38.17" lengthAdjust="spacingAndGlyphs">60.00</text><text x="1588.81" y="438.5" fill="#131722" font-size="15.5" font-weight="normal" textLength="37.66" lengthAdjust="spacingAndGlyphs">40.00</text></g><g clip-path="url(#axd)"><text x="1588.43" y="493" fill="#131722" font-size="15.5" font-weight="normal" textLength="53.57" lengthAdjust="spacingAndGlyphs">0.01000</text><text x="1588.43" y="558.5" fill="#131722" font-size="15.5" font-weight="normal" textLength="53.57" lengthAdjust="spacingAndGlyphs">0.00000</text></g><path d="M1579,119 H1647 Q1649,119 1649,121 V138 Q1649,140 1647,140 H1579 Z" fill="#2196f3"/><text x="1588.87" y="135.0" fill="#fff" font-size="15.5" font-weight="normal" textLength="52.94" lengthAdjust="spacingAndGlyphs">1.08994</text><path d="M1579,140 H1647 Q1649,140 1649,142 V159 Q1649,161 1647,161 H1579 Z" fill="#26c6da"/><text x="1588.86" y="156.0" fill="#131722" font-size="15.5" font-weight="normal" textLength="53.13" lengthAdjust="spacingAndGlyphs">1.08485</text><path d="M1579,214 H1647 Q1649,214 1649,216 V233 Q1649,235 1647,235 H1579 Z" fill="#ff6d00"/><text x="1588.86" y="230.0" fill="#fff" font-size="15.5" font-weight="normal" textLength="53.13" lengthAdjust="spacingAndGlyphs">1.05728</text><path d="M1579,235 H1647 Q1649,235 1649,237 V253.6 Q1649,255.6 1647,255.6 H1579 Z" fill="#089981"/><text x="1588.86" y="250.8" fill="#fff" font-size="15.5" font-weight="normal" textLength="53.23" lengthAdjust="spacingAndGlyphs">1.05171</text><path d="M1579,422 H1630.8 Q1632.8,422 1632.8,424 V440.5 Q1632.8,442.5 1630.8,442.5 H1579 Z" fill="#7e57c2"/><text x="1588.81" y="437.8" fill="#fff" font-size="15.5" font-weight="normal" textLength="37.46" lengthAdjust="spacingAndGlyphs">40.44</text><path d="M1579,536 H1647 Q1649,536 1649,538 V554.7 Q1649,556.7 1647,556.7 H1579 Z" fill="#22ab94"/><text x="1589.44" y="551.9" fill="#fff" font-size="15.5" font-weight="normal" textLength="52.65" lengthAdjust="spacingAndGlyphs">0.00109</text><path d="M1579,594 H1655 Q1657,594 1657,596 V613 Q1657,615 1655,615 H1579 Z" fill="#2196f3"/><text x="1588.74" y="610.0" fill="#fff" font-size="15.5" font-weight="normal" textLength="60.90" lengthAdjust="spacingAndGlyphs">−0.00788</text><path d="M1579,615 H1655 Q1657,615 1657,617 V633.6 Q1657,635.6 1655,635.6 H1579 Z" fill="#ff6d00"/><text x="1588.74" y="630.8" fill="#fff" font-size="15.5" font-weight="normal" textLength="60.99" lengthAdjust="spacingAndGlyphs">−0.00897</text><text x="20.04" y="662" fill="#131722" font-size="15.5" font-weight="normal" textLength="14.28" lengthAdjust="spacingAndGlyphs">11</text><text x="220.04" y="662" fill="#131722" font-size="15.5" font-weight="bold" textLength="26.88" lengthAdjust="spacingAndGlyphs">Aug</text><text x="334.62" y="662" fill="#131722" font-size="15.5" font-weight="normal" textLength="15.45" lengthAdjust="spacingAndGlyphs">13</text><text x="521.05" y="662" fill="#131722" font-size="15.5" font-weight="bold" textLength="25.52" lengthAdjust="spacingAndGlyphs">Sep</text><text x="635.31" y="662" fill="#131722" font-size="15.5" font-weight="normal" textLength="15.66" lengthAdjust="spacingAndGlyphs">12</text><text x="808.54" y="662" fill="#131722" font-size="15.5" font-weight="bold" textLength="24.29" lengthAdjust="spacingAndGlyphs">Oct</text><text x="922.21" y="662" fill="#131722" font-size="15.5" font-weight="normal" textLength="14.62" lengthAdjust="spacingAndGlyphs">11</text><text x="1122.01" y="662" fill="#131722" font-size="15.5" font-weight="bold" textLength="25.97" lengthAdjust="spacingAndGlyphs">Nov</text><text x="1236.84" y="662" fill="#131722" font-size="15.5" font-weight="normal" textLength="15.23" lengthAdjust="spacingAndGlyphs">13</text><text x="1408.88" y="662" fill="#131722" font-size="15.5" font-weight="bold" textLength="26.12" lengthAdjust="spacingAndGlyphs">Dec</text><text x="1523.69" y="662" fill="#131722" font-size="15.5" font-weight="normal" textLength="16.01" lengthAdjust="spacingAndGlyphs">10</text><g fill="#131722"><path d="M13.2,689.9 H22.7 V701.6 H18.1 V694.2 H13.2 Z"/><circle cx="26.85" cy="692.3" r="2.6"/><path d="M32,689.9 H37.2 L32.6,701.6 H27.1 Z"/></g><text x="41.79" y="702" fill="#131722" font-size="15.5" font-weight="normal" textLength="87.40" lengthAdjust="spacingAndGlyphs">TradingView</text></svg></body></html>
